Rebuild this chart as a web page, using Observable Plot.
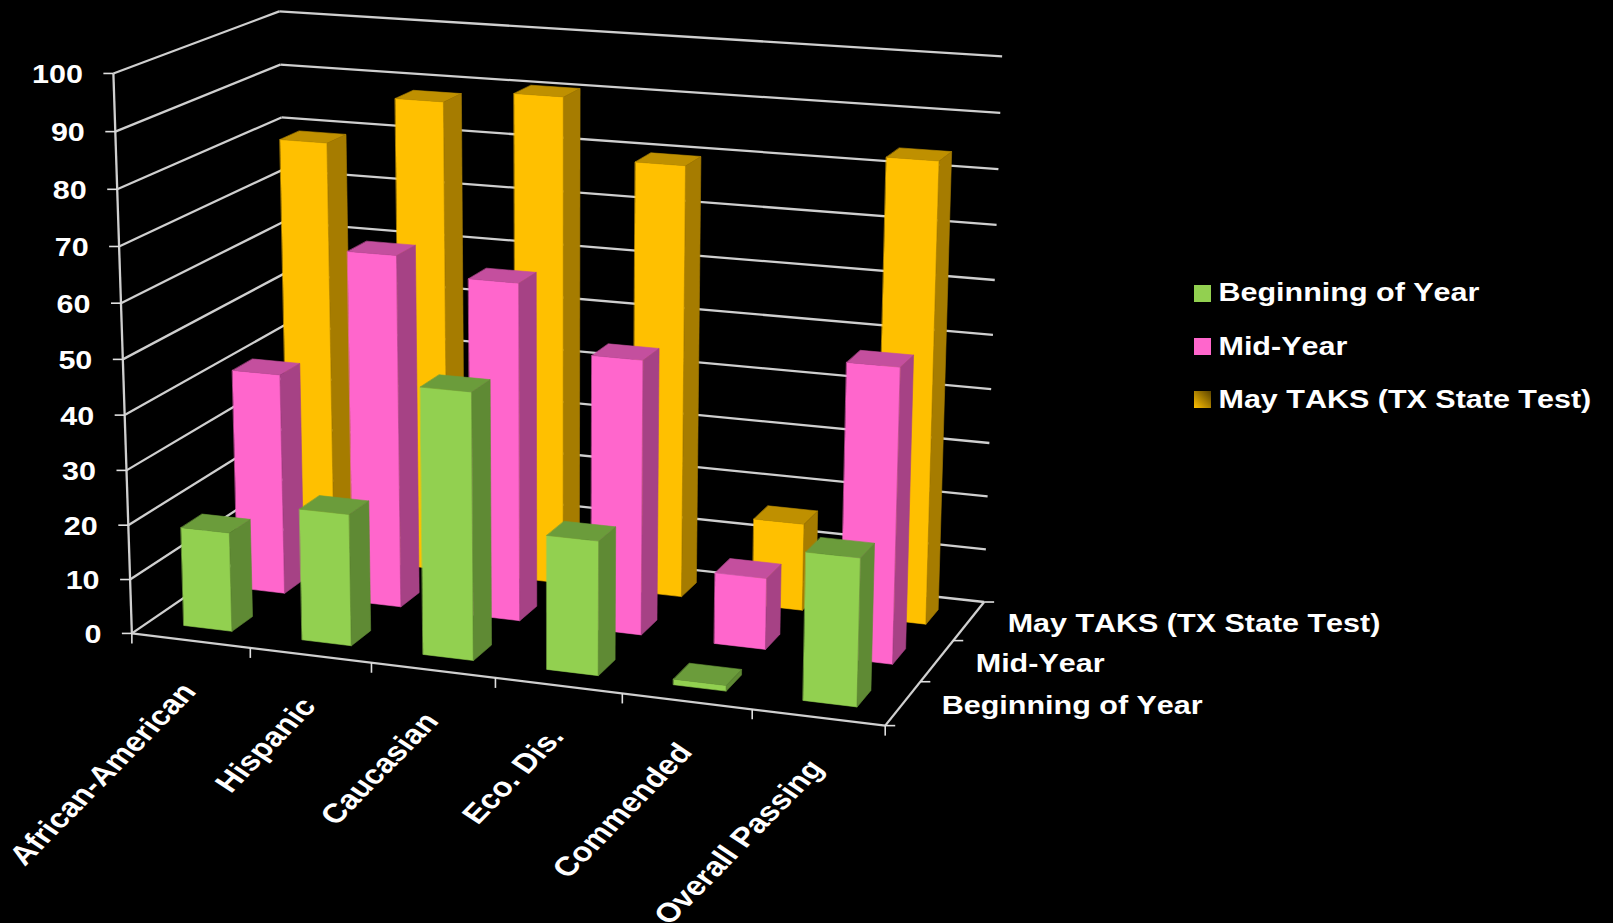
<!DOCTYPE html>
<html><head><meta charset="utf-8">
<script src="https://cdn.jsdelivr.net/npm/d3@7"></script>
<script src="https://cdn.jsdelivr.net/npm/@observablehq/plot@0.6"></script>
<style>
html,body{margin:0;padding:0;background:#000;overflow:hidden}
svg{display:block}
svg text{font-kerning:none}
</style></head><body><div id="chart"></div>
<script>
const categories = ["African-American","Hispanic","Caucasian","Eco. Dis.","Commended","Overall Passing"];
const seriesNames = ["Beginning of Year","Mid-Year","May TAKS (TX State Test)"];
const beginning = [18.2,24,48.1,24.1,1,26.1];
const midYear = [41.2,65,61.9,50.1,13,53];
const mayTaks = [79.2,88.3,90.7,79.9,16.2,84];
const valueTicks = [0,10,20,30,40,50,60,70,80,90,100];
const faceColors = [["#92D050","#6B9C3B","#5F8A34"],["#FF66CC","#C44F9E","#A64285"],["#FFC000","#BF9000","#A67C00"]];
const barInsetX = 0.295, barInsetZ = 0.31;
const calib = [[0,0,0,130.7,632.7],[0,0,100,113.3,73.3],[0,3,100,278.3,10.7],[0,3,0,290,525],
 [6,3,100,1001.7,55.7],[6,3,0,983.3,601.7],[6,0,0,885,725]];
function solve(A,b){const n=b.length,M=A.map((r,i)=>[...r,b[i]]);
 for(let i=0;i<n;i++){let p=i;for(let r=i+1;r<n;r++)if(Math.abs(M[r][i])>Math.abs(M[p][i]))p=r;[M[i],M[p]]=[M[p],M[i]];
  for(let r=0;r<n;r++)if(r!==i){const f=M[r][i]/M[i][i];for(let c=i;c<=n;c++)M[r][c]-=f*M[i][c];}}
 return M.map((r,i)=>r[n]/r[i]);}
const S=[6,3,100];
const rows=[],rhs=[];
for(const [a,b,c,u,v] of calib){const X=[a/S[0],b/S[1],c/S[2],1];
 rows.push([...X,0,0,0,0,...X.slice(0,3).map(t=>-t*u)]);rhs.push(u);
 rows.push([0,0,0,0,...X,...X.slice(0,3).map(t=>-t*v)]);rhs.push(v);}
const At=d3.transpose(rows);
const P=solve(At.map(r=>At.map(s=>d3.sum(r,(t,i)=>t*s[i]))),At.map(r=>d3.sum(r,(t,i)=>t*rhs[i])));
function proj(a,b,c){const x=a/S[0],y=b/S[1],z=c/S[2],w=P[8]*x+P[9]*y+P[10]*z+1;
 return [(P[0]*x+P[1]*y+P[2]*z+P[3])/w,(P[4]*x+P[5]*y+P[6]*z+P[7])/w];}
const polys=[];let id=0;
function poly(pts,color){id++;for(const p of pts){const [x,y]=proj(...p);polys.push({id,x,y,color});}}
const series=[beginning,midYear,mayTaks];
for(let j=2;j>=0;j--)for(let k=0;k<6;k++){
 const v=series[j][k],a0=k+barInsetX,a1=k+1-barInsetX,b0=j+barInsetZ,b1=j+1-barInsetZ,c=faceColors[j];
 poly([[a0,b0,0],[a1,b0,0],[a1,b0,v],[a0,b0,v]],c[0]);
 poly([[a0,b0,v],[a1,b0,v],[a1,b1,v],[a0,b1,v]],c[1]);
 poly([[a1,b0,0],[a1,b1,0],[a1,b1,v],[a1,b0,v]],c[2]);
}
const seg=(p,q)=>{const a=proj(...p),b=proj(...q);return {x1:a[0],y1:a[1],x2:b[0],y2:b[1]};};
const grid=[];
for(const v of valueTicks){grid.push(seg([0,0,v],[0,3,v]),seg([0,3,v],[6,3,v]));}
grid.push(seg([0,0,0],[6,0,0]),seg([6,0,0],[6,3,0]),seg([0,0,0],[0,0,100]));
const ticks=[];
const off=(p,dx,dy)=>{const a=proj(...p);return {x1:a[0],y1:a[1],x2:a[0]+dx,y2:a[1]+dy};};
for(const v of valueTicks)ticks.push(off([0,0,v],-10,0));
for(let k=0;k<=6;k++)ticks.push(off([k,0,0],0,10));
for(let j=0;j<=3;j++)ticks.push(off([6,j,0],10,0));
const valueLabels=valueTicks.map(v=>{const a=proj(0,0,v);return {t:String(v),x:a[0]-30.5,y:a[1]+1.5};});
const catLabels=categories.map((t,k)=>{const a=proj(k+0.5,0,0);return {t,x:a[0]-1.5,y:a[1]+46};});
const depthLabels=seriesNames.map((t,j)=>{const a=proj(6,j+0.5,0);return {t,x:a[0]+38.7,y:a[1]+3};});
const legend=seriesNames.map((t,j)=>({t,x:1218,y:292.7+53.4*j,fill:j==2?"url(#taksSwatch)":faceColors[j][0],i:j}));
const white="#fff",font='"Liberation Sans",Arial,sans-serif',textSize=25;
const txt={text:"t",fill:white,fontWeight:"bold",fontSize:textSize};
const chart=Plot.plot({width:1613,height:923,margin:0,
 style:{background:"#000",fontFamily:font},
 x:{type:"identity",axis:null},y:{type:"identity",axis:null},color:{type:"identity"},
 marks:[
  ()=>{const d=d3.create("svg:defs"),g=d.append("linearGradient").attr("id","taksSwatch").attr("x1","0").attr("y1","1").attr("x2","1").attr("y2","0");
   g.append("stop").attr("offset","0").attr("stop-color","#FFC000");g.append("stop").attr("offset","1").attr("stop-color","#5a4300");return d.node();},
  Plot.link(grid,{x1:"x1",y1:"y1",x2:"x2",y2:"y2",stroke:"#cfcfcf",strokeWidth:2.3}),
  Plot.link(ticks,{x1:"x1",y1:"y1",x2:"x2",y2:"y2",stroke:"#e0e0e0",strokeWidth:1.6}),
  Plot.line(polys,{x:"x",y:"y",z:"id",fill:"color",stroke:"color",strokeWidth:.6,curve:"linear-closed"}),
  Plot.text(valueLabels,{...txt,x:"x",y:"y",textAnchor:"end"}),
  Plot.text(catLabels,{...txt,fontSize:27,x:"x",y:"y",textAnchor:"end",rotate:-51}),
  Plot.text(depthLabels,{...txt,x:"x",y:"y",textAnchor:"start"}),
  Plot.rect(legend,{x1:d=>1194,x2:d=>1211,y1:d=>285+53*d.i,y2:d=>302+53*d.i,fill:"fill"}),
  Plot.text(legend,{...txt,x:"x",y:"y",textAnchor:"start"})
 ]});
// The reference picture is stretched sideways: apply the same stretch to each label
const stretch="scale(1.22,1)";
chart.querySelectorAll("text").forEach(el=>{const t=el.getAttribute("transform")||"";
 el.setAttribute("transform",t.includes("rotate")?t.replace("rotate",stretch+" rotate"):t+" "+stretch);});
document.getElementById("chart").append(chart);
</script></body></html>
